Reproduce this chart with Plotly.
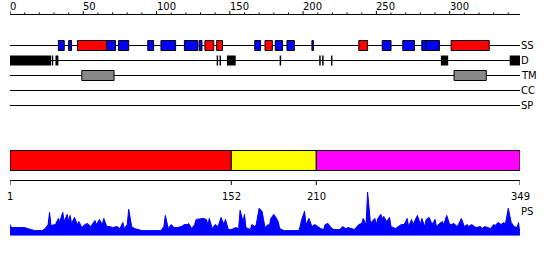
import plotly.graph_objects as go

# ---------------- data ----------------
seq_len = 349
ruler_labels = [0, 50, 100, 150, 200, 250, 300]
ruler_minor = list(range(0, 341, 10))

track_names = ["SS", "D", "TM", "CC", "SP"]

# secondary structure: (type, start, end)  H = helix (red), E = strand (blue)
ss_type = ["E", "E", "H", "E", "E", "E", "E", "E", "E", "H", "H",
           "E", "H", "E", "E", "E", "H", "E", "E", "E", "E", "H"]
ss_start = [34, 41, 47, 67, 75, 95, 104, 120, 130, 134, 142,
            168, 175, 182, 190, 207, 239, 255, 269, 282, 285, 302]
ss_end = [38, 43, 67, 73, 82, 99, 114, 129, 132, 140, 146,
          172, 180, 187, 195, 208, 245, 261, 277, 285, 294, 328]

# disordered regions
d_start = [1, 29.5, 32, 142, 144, 149, 185, 212, 214, 220, 295, 342]
d_end = [29, 30.5, 34, 143, 145, 155, 186, 213, 215, 221, 300, 349]

# transmembrane regions
tm_start = [50, 304]
tm_end = [72, 326]

# domain partition
dom_start = [1, 152, 210]
dom_end = [152, 210, 349]
dom_colors = ["#FF0000", "#FFFF00", "#FF00FF"]
dom_ticks = [1, 152, 210, 349]

# PS profile (residue, value)
ps_res = [1, 2, 9, 11, 13, 18, 23, 25, 27, 28, 29, 32, 34, 35, 37, 38, 40, 41, 42, 43,
          45, 47, 48, 50, 52, 54, 56, 59, 60, 62, 64, 65, 67, 69, 71, 74, 76, 78, 79, 81,
          82, 84, 86, 89, 91, 95, 104, 106, 107, 109, 111, 113, 115, 118, 120, 122, 123, 125, 127, 128,
          131, 133, 135, 136, 137, 139, 141, 143, 145, 147, 148, 150, 152, 155, 157, 158, 160, 161, 162, 165,
          166, 168, 169, 171, 173, 175, 177, 178, 179, 181, 182, 184, 185, 188, 198, 199, 200, 202, 203, 205,
          207, 209, 211, 213, 215, 216, 218, 220, 222, 224, 226, 228, 230, 232, 234, 236, 239, 241, 242, 244,
          245, 247, 248, 250, 251, 252, 254, 255, 256, 258, 260, 261, 264, 266, 268, 270, 272, 273, 275, 276,
          278, 279, 281, 282, 284, 285, 287, 289, 291, 292, 294, 296, 297, 299, 301, 302, 304, 306, 307, 309,
          311, 313, 314, 316, 318, 319, 322, 323, 325, 327, 329, 331, 332, 334, 336, 338, 339, 341, 343, 345,
          347, 348, 349]
ps_val = [11, 8, 8, 8, 7, 5, 5, 7, 11, 23, 10, 11, 17, 14, 23, 14, 21, 14, 20, 12,
          18, 11, 14, 8, 11, 12, 9, 15, 11, 16, 11, 17, 9, 9, 8, 9, 7, 13, 7, 11,
          26, 9, 7, 6, 5, 5, 5, 9, 20, 7, 11, 8, 8, 9, 11, 11, 12, 7, 11, 16,
          17, 17, 16, 11, 17, 7, 11, 9, 18, 11, 16, 6, 6, 8, 7, 25, 14, 21, 8, 6,
          11, 9, 11, 27, 24, 8, 11, 10, 17, 21, 19, 14, 7, 5, 5, 9, 16, 24, 11, 17,
          9, 11, 9, 7, 6, 11, 12, 8, 6, 6, 6, 9, 7, 8, 7, 6, 11, 12, 17, 11,
          43, 12, 14, 17, 11, 17, 21, 17, 19, 14, 18, 9, 7, 9, 11, 11, 17, 9, 16, 11,
          17, 20, 11, 17, 9, 16, 18, 11, 16, 9, 12, 14, 11, 20, 11, 11, 12, 9, 11, 17,
          9, 11, 9, 11, 9, 8, 9, 7, 9, 8, 7, 11, 10, 13, 11, 13, 11, 27, 13, 9,
          8, 13, 1]

# ---------------- layout constants ----------------
W, H = 550, 260
FONT = "DejaVu Sans"
track_y = [45.5, 60.5, 75.5, 90.5, 105.5]
ss_colors = {"H": "#FF0000", "E": "#0000FF"}

fig = go.Figure()
shapes = []
annots = []

def line(x0, x1, y0, y1, color="black", width=1):
    shapes.append(dict(type="line", xref="x", yref="y", x0=x0, x1=x1, y0=y0, y1=y1,
                       line=dict(color=color, width=width)))

def rect(x0, x1, y0, y1, fill, border="black", width=1):
    shapes.append(dict(type="rect", xref="x", yref="y", x0=x0, x1=x1, y0=y0, y1=y1,
                       fillcolor=fill, line=dict(color=border, width=width)))

# top ruler
ruler_y = 14.5
line(1, seq_len, ruler_y, ruler_y)
for t in ruler_minor:
    top = 11 if t % 50 == 0 else 12.5
    line(1 + t, 1 + t, top, ruler_y)
for t in ruler_labels:
    annots.append(dict(x=1 + t, y=6.5, xref="x", yref="y", text=str(t), showarrow=False,
                       xanchor="left", yanchor="middle", xshift=-2,
                       font=dict(family=FONT, size=10, color="black")))

# track lines and labels
for name, y in zip(track_names, track_y):
    line(1, seq_len, y, y)
    annots.append(dict(x=seq_len, y=y, xref="x", yref="y", text=name, showarrow=False,
                       xanchor="left", yanchor="middle", xshift=-1,
                       font=dict(family=FONT, size=10, color="black")))

# SS boxes
y = track_y[0]
for t, s, e in zip(ss_type, ss_start, ss_end):
    rect(s, e, y - 5, y + 5, ss_colors[t])

# disorder boxes
y = track_y[1]
for s, e in zip(d_start, d_end):
    rect(s, e, y - 5, y + 5, "black", border="black", width=0)

# TM boxes
y = track_y[2]
for s, e in zip(tm_start, tm_end):
    rect(s, e, y - 5, y + 5, "#888888")

# domain bar
for s, e, c in zip(dom_start, dom_end, dom_colors):
    rect(s, e, 150.5, 170.5, c)

# bottom axis
axis_y = 180.5
line(1, seq_len, axis_y, axis_y)
for t in dom_ticks:
    line(t, t, axis_y, 185)
    annots.append(dict(x=t, y=196, xref="x", yref="y", text=str(t), showarrow=False,
                       xanchor="center", yanchor="middle",
                       font=dict(family=FONT, size=10, color="black")))

# PS label
annots.append(dict(x=seq_len, y=211, xref="x", yref="y", text="PS", showarrow=False,
                   xanchor="left", yanchor="middle", xshift=-1,
                   font=dict(family=FONT, size=10, color="black")))

# PS profile
fig.add_trace(go.Scatter(x=ps_res, y=ps_val, mode="lines", fill="tozeroy",
                         line=dict(color="#0000FF", width=1), fillcolor="#0000FF",
                         xaxis="x", yaxis="y2", hoverinfo="skip", showlegend=False))

fig.update_layout(
    width=W, height=H,
    margin=dict(l=0, r=0, t=0, b=0),
    paper_bgcolor="white", plot_bgcolor="white",
    showlegend=False,
    xaxis=dict(range=[1, seq_len], domain=[10 / W, 520 / W], visible=False, fixedrange=True),
    yaxis=dict(range=[H, 0], domain=[0, 1], visible=False, fixedrange=True),
    yaxis2=dict(range=[0, 43], domain=[24.3 / H, 68 / H], visible=False, anchor="x",
                fixedrange=True),
    shapes=shapes,
    annotations=annots,
)

fig.write_html("out.html")
